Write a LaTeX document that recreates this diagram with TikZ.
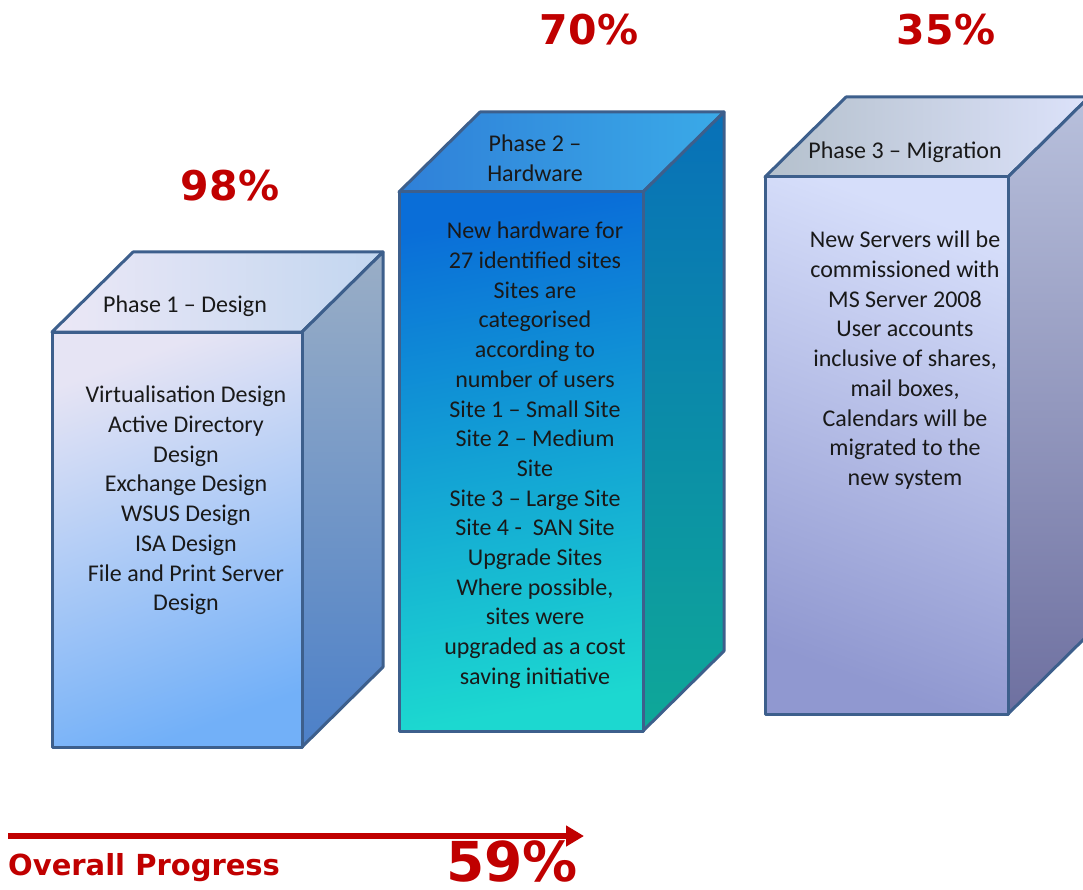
\documentclass[tikz,border=0pt]{standalone}
\usepackage{fontspec}
\setmainfont{Carlito}
\newfontfamily\pctfont{DejaVu Sans}
\usetikzlibrary{arrows.meta}

\definecolor{edgeblue}{HTML}{3D5F8C}
\definecolor{pctred}{HTML}{C00000}
% phase 1 colours
\definecolor{onefronttop}{HTML}{E6E4F4}
\definecolor{onefrontbot}{HTML}{72B0F8}
\definecolor{onetopl}{HTML}{ECE8F6}
\definecolor{onetopr}{HTML}{C2D6F0}
\definecolor{onesidetop}{HTML}{9AAEC6}
\definecolor{onesidebot}{HTML}{4C80C8}
% phase 2 colours
\definecolor{twofronttop}{HTML}{0A6ED8}
\definecolor{twofrontbot}{HTML}{1CD8D0}
\definecolor{twotopl}{HTML}{2F80D8}
\definecolor{twotopr}{HTML}{3AAAE8}
\definecolor{twosidetop}{HTML}{0870B8}
\definecolor{twosidebot}{HTML}{0EA898}
% phase 3 colours
\definecolor{threefronttop}{HTML}{D6DEFA}
\definecolor{threefrontbot}{HTML}{9098D0}
\definecolor{threetopl}{HTML}{B4C0CC}
\definecolor{threetopr}{HTML}{DCE2FA}
\definecolor{threesidetop}{HTML}{B8C0DC}
\definecolor{threesidebot}{HTML}{6E70A0}

\tikzset{
  boxedge/.style={draw=edgeblue, line width=3pt, line join=round},
  phasetext/.style={font=\fontsize{24}{29.7}\selectfont, align=center, inner sep=0pt, text=black!90},
  pcttext/.style={font=\pctfont\bfseries\fontsize{41}{41}\selectfont, text=pctred, inner sep=0pt}
}

% cuboid: [front][top][side](x left : x right : y top : y bottom)
\def\phasebox[#1][#2][#3](#4:#5:#6:#7){
  \shadedraw[boxedge,#2] (#4,#6) -- (#4+81,#6-80) -- (#5+81,#6-80) -- (#5,#6) -- cycle;
  \shadedraw[boxedge,#3] (#5,#6) -- (#5+81,#6-80) -- (#5+81,#7-80) -- (#5,#7) -- cycle;
  \shadedraw[boxedge,#1] (#4,#6) rectangle (#5,#7);
}

\begin{document}
\begin{tikzpicture}[x=1pt, y=-1pt]
  %%%%% START %%%%%
  \useasboundingbox (0,0) rectangle (1083,890);
  \clip (0,0) rectangle (1083,890);

  % phase 1
  \phasebox[top color=onefronttop, bottom color=onefrontbot, shading angle=20][left color=onetopl, right color=onetopr][top color=onesidetop, bottom color=onesidebot](52:302:332:747)
  \node[phasetext] (p1top) at (185,306) {Phase 1 – Design};
  \node[phasetext, anchor=north] (p1body) at (186,386) {Virtualisation Design\\Active Directory\\Design\\Exchange Design\\WSUS Design\\ISA Design\\File and Print Server\\Design};
  \node[pcttext] (pct1) at (230,186) {98\%};

  % phase 2
  \phasebox[top color=twofronttop, bottom color=twofrontbot, shading angle=10][left color=twotopl, right color=twotopr][top color=twosidetop, bottom color=twosidebot](399:643:192:731)
  \node[phasetext] (p2top) at (535,158) {Phase 2 –\\Hardware};
  \node[phasetext, anchor=north] (p2body) at (535,222) {New hardware for\\27 identified sites\\Sites are\\categorised\\according to\\number of users\\Site 1 – Small Site\\Site 2 – Medium\\Site\\Site 3 – Large Site\\Site 4 -\ \ SAN Site\\Upgrade Sites\\Where possible,\\sites were\\upgraded as a cost\\saving initiative};
  \node[pcttext] (pct2) at (589,30) {70\%};

  % phase 3
  \phasebox[top color=threefronttop, bottom color=threefrontbot, shading angle=-20][left color=threetopl, right color=threetopr][top color=threesidetop, bottom color=threesidebot](765:1008:177:714)
  \node[phasetext] (p3top) at (905,152) {Phase 3 – Migration};
  \node[phasetext, anchor=north] (p3body) at (905,231) {New Servers will be\\commissioned with\\MS Server 2008\\User accounts\\inclusive of shares,\\mail boxes,\\Calendars will be\\migrated to the\\new system};
  \node[pcttext] (pct3) at (946,30) {35\%};

  % overall progress
  \coordinate (arrstart) at (8,836);
  \coordinate (arrend) at (584,836);
  \draw[pctred, line width=6pt, -{Triangle[length=18pt, width=20pt]}] (arrstart) -- (arrend);
  \node[font=\pctfont\bfseries\fontsize{29}{29}\selectfont, text=pctred, inner sep=0pt, anchor=base west] (overall) at (8,875) {Overall Progress};
  \node[font=\pctfont\bfseries\fontsize{55}{55}\selectfont, text=pctred, inner sep=0pt, anchor=base] (pcttotal) at (512,881) {59\%};
  %%%%% END %%%%%
\end{tikzpicture}
\end{document}
